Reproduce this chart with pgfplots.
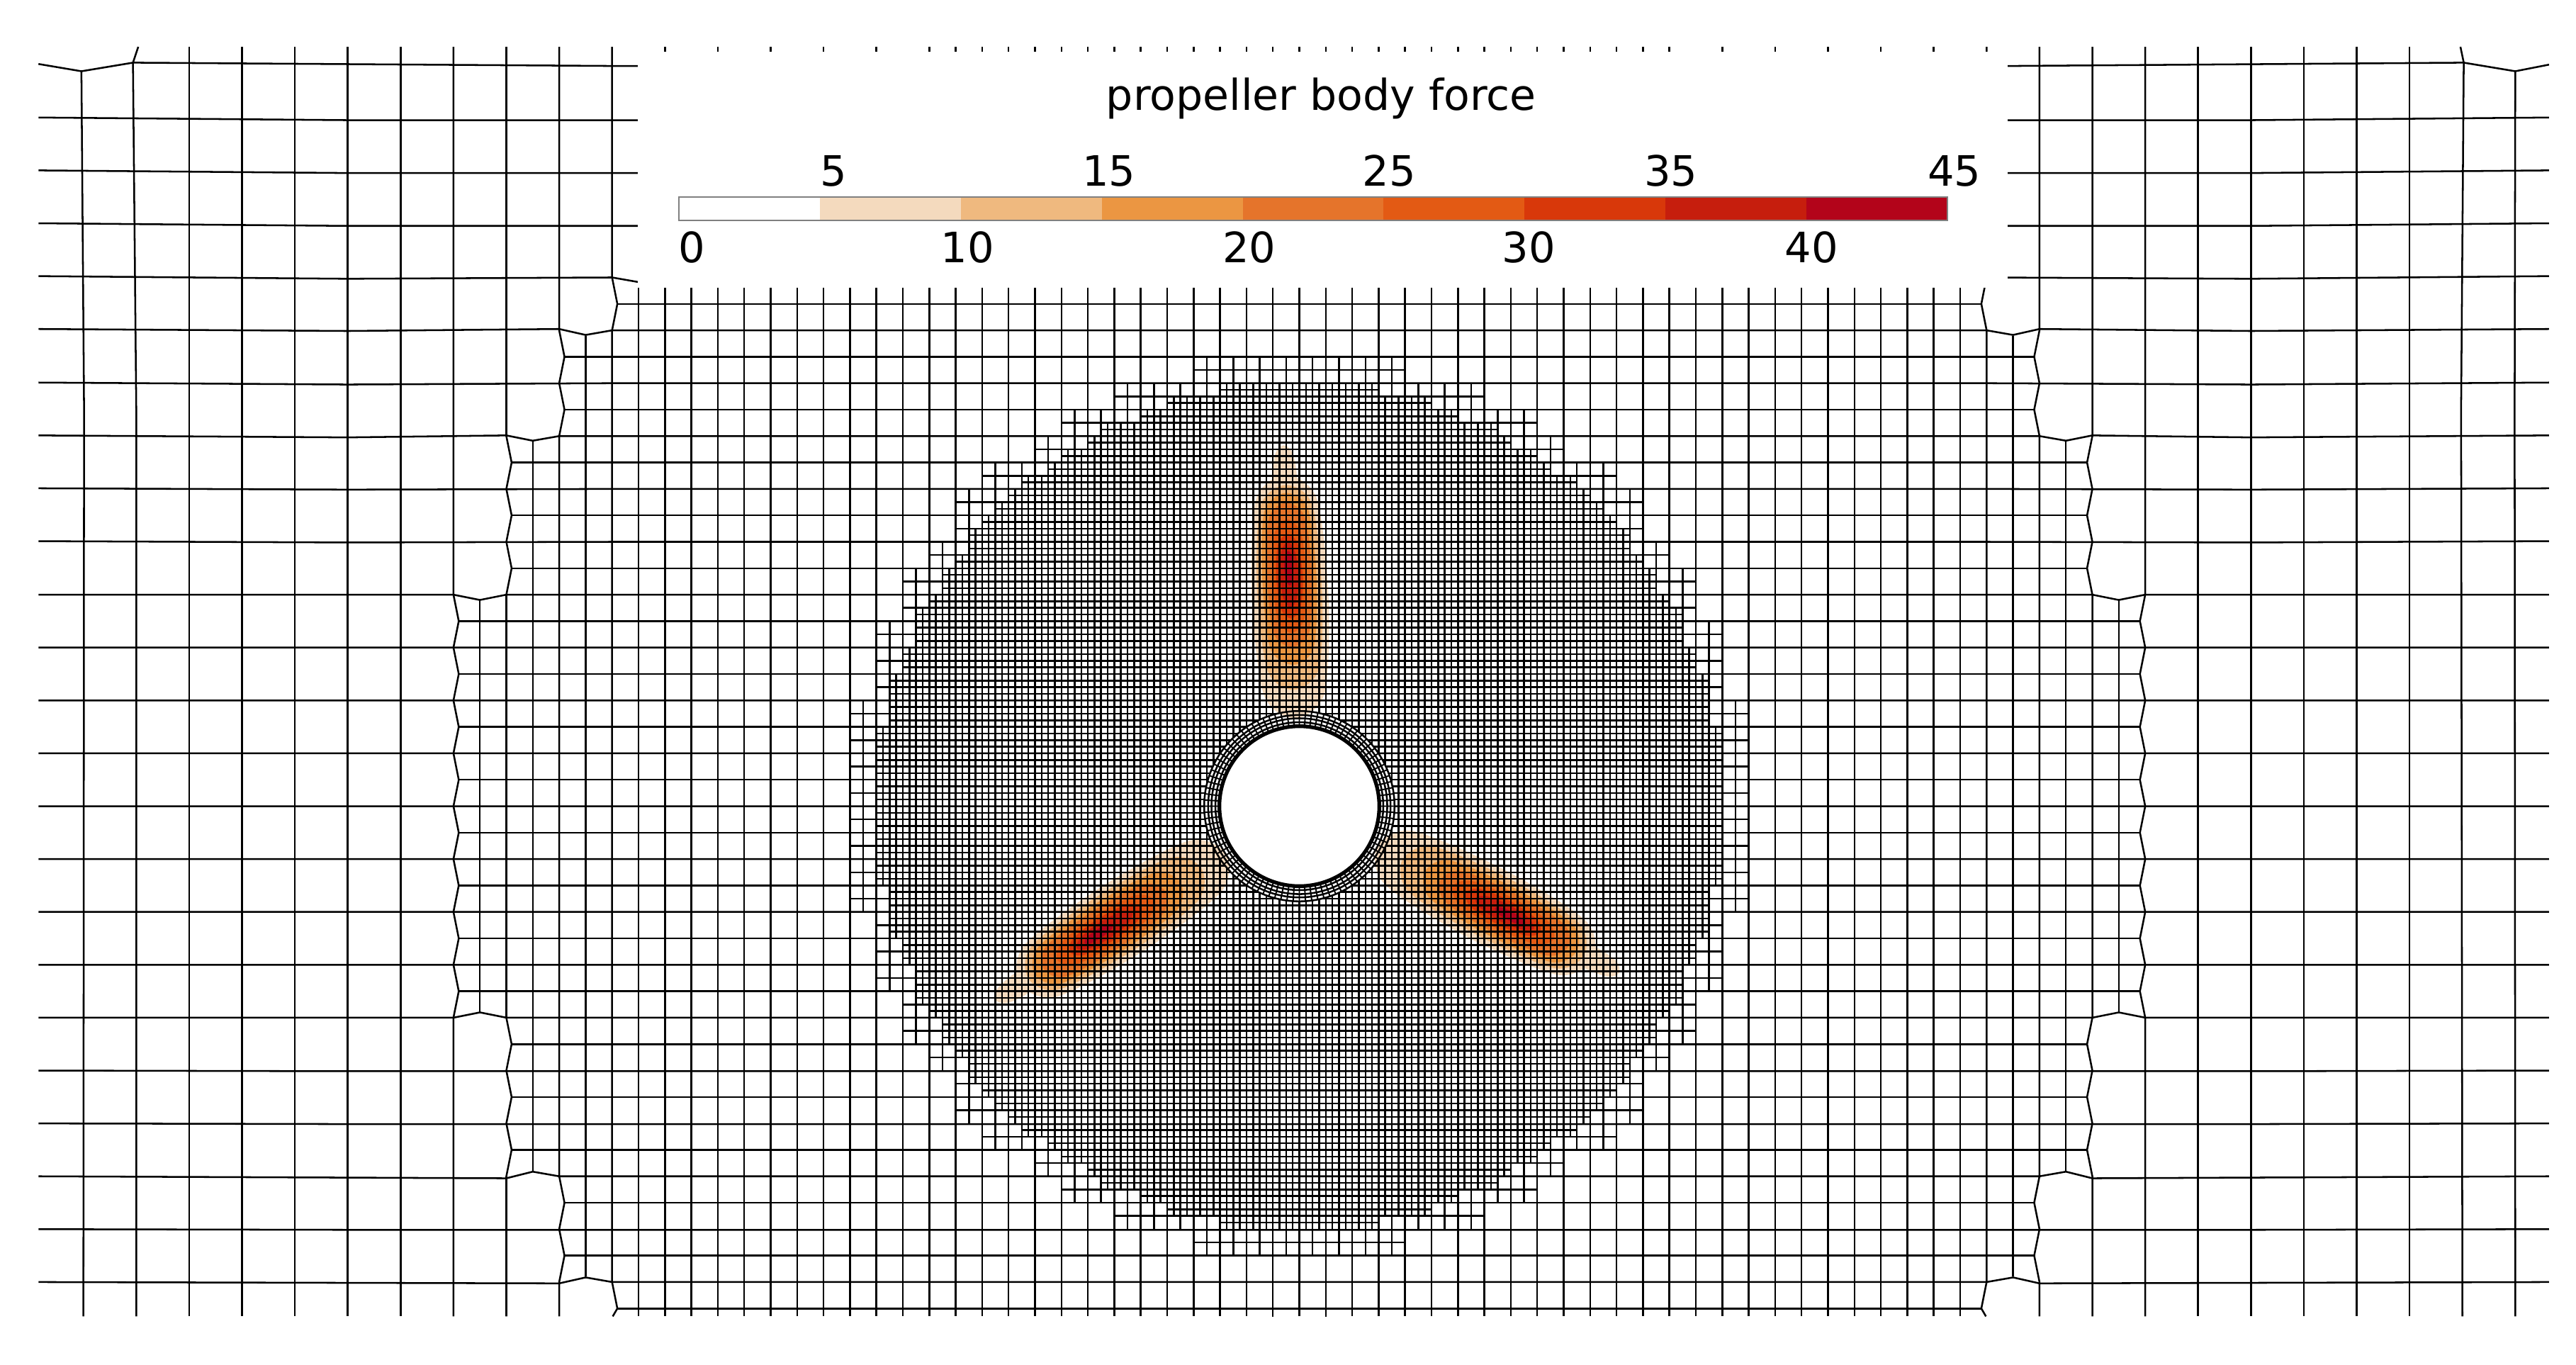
\documentclass[border=0pt]{standalone}
\usepackage{fontspec}
\setmainfont{DejaVu Sans}
\usepackage{pgfplots}
\usepackage{pgfplotstable}
\pgfplotsset{compat=1.18}

% everything is in fine-cell units, origin at the cylinder centre
\definecolor{lvA}{HTML}{F4DABE}
\definecolor{lvB}{HTML}{EFB97F}
\definecolor{lvC}{HTML}{EB9642}
\definecolor{lvD}{HTML}{E5742B}
\definecolor{lvE}{HTML}{E35A14}
\definecolor{lvF}{HTML}{D8380A}
\definecolor{lvG}{HTML}{C61E0D}
\definecolor{lvH}{HTML}{B3041A}

\pgfplotsset{
  grd/.style={black,line width=0.72pt,mark=none},
  ebx/.style={draw=none,mark=none,error bars/.cd,x dir=both,x explicit,error mark=none,
    error bar style={draw=black,line width=0.72pt}},
  eby/.style={draw=none,mark=none,error bars/.cd,y dir=both,y explicit,error mark=none,
    error bar style={draw=black,line width=0.72pt}},
}

\newcommand{\blob}[2]{\addplot[fill=#1,draw=none,smooth cycle] coordinates {#2};}
\newcommand{\ring}[4]{\addplot[#4,smooth cycle,tension=0.63] coordinates {(#1,0)(#2,#3)(#3,#2)(0,#1)(-#3,#2)(-#2,#3)(-#1,0)(-#2,-#3)(-#3,-#2)(0,-#1)(#3,-#2)(#2,-#3)};}
\newcommand{\seg}[3]{\addplot[fill=#1,draw=none] coordinates {(#2,-92.2)(#3,-92.2)(#3,-88.6)(#2,-88.6)} --cycle;}

% fine and second-level lines: position, centre, half length (used both ways)
\pgfplotstableread{
k c h
15 0 62
-15 0 62
17 0 62
-17 0 62
19 0 62
-19 0 62
21 0 60
-21 0 60
23 0 60
-23 0 60
25 0 58
-25 0 58
27 0 58
-27 0 58
29 0 58
-29 0 58
31 0 56
-31 0 56
33 0 54
-33 0 54
35 0 54
-35 0 54
37 0 52
-37 0 52
39 0 50
-39 0 50
41 0 50
-41 0 50
43 0 48
-43 0 48
45 0 46
-45 0 46
47 0 44
-47 0 44
49 0 42
-49 0 42
51 0 38
-51 0 38
53 0 36
-53 0 36
55 0 32
-55 0 32
57 0 30
-57 0 30
59 0 24
-59 0 24
61 0 20
-61 0 20
63 0 12
-63 0 12
18 0 64
-18 0 64
22 0 64
-22 0 64
26 0 64
-26 0 64
30 0 60
-30 0 60
34 0 60
-34 0 60
38 0 56
-38 0 56
42 0 52
-42 0 52
46 0 52
-46 0 52
50 0 48
-50 0 48
54 0 40
-54 0 40
58 0 36
-58 0 36
62 0 28
-62 0 28
66 0 16
-66 0 16
1 39.19 24.81
1 -39.19 24.81
-1 39.19 24.81
-1 -39.19 24.81
3 39.04 24.96
3 -39.04 24.96
-3 39.04 24.96
-3 -39.04 24.96
5 38.75 25.25
5 -38.75 25.25
-5 38.75 25.25
-5 -38.75 25.25
7 38.29 25.71
7 -38.29 25.71
-7 38.29 25.71
-7 -38.29 25.71
9 37.62 26.38
9 -37.62 26.38
-9 37.62 26.38
-9 -37.62 26.38
11 36.65 27.35
11 -36.65 27.35
-11 36.65 27.35
-11 -36.65 27.35
13 34.1 27.9
13 -34.1 27.9
-13 34.1 27.9
-13 -34.1 27.9
2 41.13 26.87
2 -41.13 26.87
-2 41.13 26.87
-2 -41.13 26.87
6 40.55 27.45
6 -40.55 27.45
-6 40.55 27.45
-6 -40.55 27.45
10 39.18 28.82
10 -39.18 28.82
-10 39.18 28.82
-10 -39.18 28.82
14 35.69 32.31
14 -35.69 32.31
-14 35.69 32.31
-14 -35.69 32.31
}\sharedT

% long vertical lines
\pgfplotstableread{
k c h
168 -18.85 96.05
-168 -18.85 96.05
160 -18.85 96.05
-160 -18.85 96.05
152 -18.85 96.05
-152 -18.85 96.05
144 -18.85 96.05
-144 -18.85 96.05
136 -18.85 96.05
-136 -18.85 96.05
96 -18.85 96.05
-96 -18.85 96.05
88 -18.85 96.05
-88 -18.85 96.05
80 -18.85 96.05
-80 -18.85 96.05
72 -18.85 96.05
-72 -18.85 96.05
64 -18.85 96.05
-64 -18.85 96.05
56 -18.85 96.05
-56 -18.85 96.05
52 -18.85 96.05
-52 -18.85 96.05
48 -18.85 96.05
-48 -18.85 96.05
44 -18.85 96.05
-44 -18.85 96.05
40 -18.85 96.05
-40 -18.85 96.05
36 -18.85 96.05
-36 -18.85 96.05
32 -18.85 96.05
-32 -18.85 96.05
28 -18.85 96.05
-28 -18.85 96.05
24 -18.85 96.05
-24 -18.85 96.05
20 -18.85 96.05
-20 -18.85 96.05
16 -18.85 96.05
-16 -18.85 96.05
100 -1.4 78.6
-100 -1.4 78.6
92 -1.4 78.6
-92 -1.4 78.6
84 -1.4 78.6
-84 -1.4 78.6
76 -1.4 78.6
-76 -1.4 78.6
68 -1.4 78.6
-68 -1.4 78.6
60 -1.4 78.6
-60 -1.4 78.6
124 0 31.2
-124 0 31.2
116 0 55.2
-116 0 55.2
108 0 71.2
-108 0 71.2
0 -64.65 50.25
0 45.8 31.4
4 -64.37 50.54
4 45.52 31.69
-4 -64.37 50.54
-4 45.52 31.69
8 -63.44 51.47
8 44.59 32.61
-8 -63.44 51.47
-8 44.59 32.61
12 -61.43 53.47
12 42.58 34.62
-12 -61.43 53.47
-12 42.58 34.62
}\vertT

% second-level horizontal lines
\pgfplotstableread{
c j h
0 20 127.2
0 -20 127.2
0 28 127.2
0 -28 127.2
0 36 119.2
0 -36 119.2
0 44 119.2
0 -44 119.2
0 52 119.2
0 -52 119.2
0 60 111.2
0 -60 111.2
0 68 111.2
0 -68 111.2
0 76 103.2
0 -76 103.2
70.52 4 56.69
-70.52 4 56.69
70.52 -4 56.69
-70.52 -4 56.69
67.58 12 59.62
-67.58 12 59.62
67.58 -12 59.62
-67.58 -12 59.62
}\horT

\begin{document}
\begin{tikzpicture}
\begin{axis}[
  scale only axis,
  width=36.35cm,
  height=19.25cm,
  xmin=-196.62,xmax=193.19,
  ymin=-121.98,ymax=84.45,
  y dir=reverse,
  hide axis,
  unbounded coords=jump,
]
% page corners
\addplot[white,line width=0.1pt,mark=none] coordinates {(-196.62,-121.98)(193.19,84.45)};

% blade bands, tail first
\blob{lvA}{(-2.4,-54.6)(-1.05,-53.5)(-0.4,-50.1)(-0.75,-46.7)(-2,-45.4)(-3.35,-46.5)(-4,-49.9)(-3.65,-53.3)}
\blob{lvA}{(-2.2,-50.1)(2.6,-46.6)(4.4,-32)(3.85,-17.2)(-0.6,-13.3)(-5.35,-16.8)(-7.2,-31.4)(-6.6,-46.2)}
\blob{lvB}{(-2.1,-48.6)(1.9,-45.7)(3.4,-33.3)(3,-20.9)(-0.8,-17.6)(-4.8,-20.5)(-6.4,-32.9)(-5.9,-45.3)}
\blob{lvC}{(-2.1,-47.4)(1.3,-45)(2.6,-34.6)(2.2,-24.1)(-0.9,-21.4)(-4.4,-23.9)(-5.6,-34.2)(-5.3,-44.6)}
\blob{lvD}{(-2,-45.9)(0.8,-43.8)(1.9,-35.1)(1.5,-26.4)(-1.1,-24.1)(-3.9,-26.2)(-4.9,-34.9)(-4.6,-43.6)}
\blob{lvE}{(-1.9,-43.4)(0.2,-41.4)(1.1,-34.9)(0.75,-28.4)(-1.15,-26.2)(-3.25,-28.2)(-4.1,-34.7)(-3.8,-41.2)}
\blob{lvF}{(-1.8,-41.2)(-0.25,-39.7)(0.5,-34.9)(0.2,-30.1)(-1.25,-28.4)(-2.8,-29.9)(-3.5,-34.7)(-3.25,-39.5)}
\blob{lvG}{(-1.75,-40)(-0.7,-38.6)(-0.1,-35)(-0.4,-31.4)(-1.3,-30)(-2.4,-31.4)(-2.9,-35)(-2.7,-38.6)}
\blob{lvH}{(-1.7,-38.6)(-1.15,-37.9)(-0.9,-36)(-1,-34.1)(-1.45,-33.4)(-2,-34.1)(-2.3,-36)(-2.15,-37.9)}

\blob{lvA}{(-46,29.3)(-45.7,27.6)(-43.1,25.3)(-40,23.9)(-38.3,24.4)(-38.6,26.1)(-41.2,28.4)(-44.3,29.8)}
\blob{lvA}{(-42.2,26.9)(-41.6,21)(-29.8,12.1)(-16.8,5.25)(-11.2,7.14)(-11.86,13)(-23.6,21.9)(-36.6,28.8)}
\blob{lvB}{(-41,26.1)(-40.45,21.1)(-30.5,13.6)(-19.5,7.8)(-14.8,9.45)(-15.4,14.4)(-25.3,21.9)(-36.3,27.7)}
\blob{lvC}{(-40,25.5)(-39.5,21.3)(-31.2,15)(-22,10.1)(-18,11.5)(-18.5,15.7)(-26.8,21.9)(-36,26.8)}
\blob{lvD}{(-38.7,24.6)(-38.3,21.2)(-31.3,15.9)(-23.6,11.8)(-20.3,12.9)(-20.7,16.4)(-27.7,21.7)(-35.4,25.8)}
\blob{lvE}{(-36.6,23.3)(-35.9,20.5)(-30.7,16.5)(-24.9,13.5)(-22.1,14.1)(-22.8,16.9)(-27.9,20.9)(-33.75,23.9)}
\blob{lvF}{(-34.7,22.1)(-34.2,20)(-30.4,17)(-26.1,14.85)(-23.9,15.25)(-24.5,17.4)(-28.3,20.4)(-32.6,22.5)}
\blob{lvG}{(-33.7,21.5)(-33.1,19.9)(-30.25,17.6)(-27,16)(-25.3,16.1)(-25.9,17.7)(-28.75,20)(-32,21.6)}
\blob{lvH}{(-32.5,20.7)(-32.2,19.9)(-30.7,18.7)(-29,17.9)(-28.2,17.9)(-28.5,18.7)(-30,19.9)(-31.7,20.8)}

\blob{lvA}{(48.4,25.2)(46.8,25.8)(43.5,24.7)(40.7,22.7)(40.3,21)(41.9,20.4)(45.2,21.5)(48,23.5)}
\blob{lvA}{(44.4,23.1)(39,25.5)(25.4,19.8)(13,11.9)(11.8,6.14)(17.2,3.77)(30.8,9.5)(43.3,17.3)}
\blob{lvB}{(43.1,22.5)(38.6,24.5)(27.1,19.6)(16.6,13)(15.6,8.13)(20.2,6.1)(31.6,10.9)(42.2,17.6)}
\blob{lvC}{(42,21.9)(38.2,23.6)(28.6,19.5)(19.8,14)(19,9.9)(22.8,8.2)(32.4,12.3)(41.3,17.8)}
\blob{lvD}{(40.7,21.2)(37.5,22.6)(29.5,19.2)(22.1,14.5)(21.4,11.1)(24.6,9.8)(32.6,13.2)(40,17.8)}
\blob{lvE}{(38.5,20.1)(35.7,20.85)(29.7,18.4)(24.2,14.85)(23.2,12.1)(26,11.3)(32.1,13.8)(37.55,17.3)}
\blob{lvF}{(36.5,19)(34.4,19.6)(29.95,17.85)(25.9,15.2)(25.2,13.1)(27.3,12.5)(31.8,14.3)(35.8,17)}
\blob{lvG}{(35.5,18.5)(33.8,18.7)(30.4,17.4)(27.4,15.4)(26.6,13.9)(28.3,13.6)(31.7,14.9)(34.7,16.9)}
\blob{lvH}{(34.2,17.8)(33.4,17.95)(31.6,17.25)(30,16.2)(29.6,15.4)(30.5,15.3)(32.2,16)(33.85,17.1)}

% mesh
\addplot[eby] table[x=k,y=c,y error=h]{\sharedT};
\addplot[ebx] table[x=c,y=k,x error=h]{\sharedT};
\addplot[eby] table[x=k,y=c,y error=h]{\vertT};
\addplot[ebx] table[x=c,y=j,x error=h]{\horT};

% outer vertical lines, with the bulges on the refinement edges
\addplot[grd] coordinates {
(-184.3,-111.2)(-183.9,-60)(-184,77.2)(nan,nan)
(184,-111.2)(183.9,-60)(184,77.2)(nan,nan)
(-175.7,-114.9)(-176.5,-112.5)(-176,-60)(-176,77.2)(nan,nan)
(175.7,-114.9)(176.2,-112.5)(175.8,-60)(176,77.2)(nan,nan)
(-128,-114.9)(-128,-32)(-127.2,-28)(-128,-24)(-127.2,-20)(-128,-16)(-127.2,-12)(-128,-8)(-127.2,-4)(-128,0)(-127.2,4)(-128,8)(-127.2,12)(-128,16)(-127.2,20)(-128,24)(-127.2,28)(-128,32)(-128,77.2)(nan,nan)
(128,-114.9)(128,-32)(127.2,-28)(128,-24)(127.2,-20)(128,-16)(127.2,-12)(128,-8)(127.2,-4)(128,0)(127.2,4)(128,8)(127.2,12)(128,16)(127.2,20)(128,24)(127.2,28)(128,32)(128,77.2)(nan,nan)
(-120,-114.9)(-120,-56)(-119.2,-52)(-120,-48)(-119.2,-44)(-120,-40)(-119.2,-36)(-120,-32)(-120,32)(-119.2,36)(-120,40)(-119.2,44)(-120,48)(-119.2,52)(-120,56)(-120,77.2)(nan,nan)
(120,-114.9)(120,-56)(119.2,-52)(120,-48)(119.2,-44)(120,-40)(119.2,-36)(120,-32)(120,32)(119.2,36)(120,40)(119.2,44)(120,48)(119.2,52)(120,56)(120,77.2)(nan,nan)
(-112,-114.9)(-112,-72)(-111.2,-68)(-112,-64)(-111.2,-60)(-112,-56)(-112,56)(-111.2,60)(-112,64)(-111.2,68)(-112,72)(-112,77.2)(nan,nan)
(112,-114.9)(112,-72)(111.2,-68)(112,-64)(111.2,-60)(112,-56)(112,56)(111.2,60)(112,64)(111.2,68)(112,72)(112,77.2)(nan,nan)
(-104,-114.9)(-104,-80)(-103.2,-76)(-104,-72)(-104,72)(-103.2,76)(-103.9,77.2)(nan,nan)
(104,-114.9)(104,-80)(103.2,-76)(104,-72)(104,72)(103.2,76)(103.9,77.2)
};

% long horizontal lines
\addplot[grd] coordinates {
(-190.8,-112.3)(-184.3,-111.2)(-176.5,-112.5)(-104,-112)(108,-112)(176.2,-112.5)(184,-111.2)(189.1,-112.2)(nan,nan)
(-190.8,-104.2)(-144,-103.8)(144,-103.8)(189.1,-104.2)(nan,nan)
(-190.8,-96.2)(-144,-95.8)(144,-95.8)(189.1,-96.2)(nan,nan)
(-190.8,-88.2)(-144,-87.8)(144,-87.8)(189.1,-88.2)(nan,nan)
(-190.8,-80.2)(-144,-79.8)(-104,-80)(-100,-79.3)(-96,-80)(96,-80)(100,-79.3)(104,-80)(144,-79.8)(189.1,-80.2)(nan,nan)
(-190.8,-72.2)(-144,-71.9)(-112,-72.2)(-108,-71.3)(-104,-72)(104,-72)(108,-71.3)(112,-72.2)(144,-71.9)(189.1,-72.2)(nan,nan)
(-190.8,-64.1)(-144,-63.8)(-104,-64)(104,-64)(144,-63.8)(189.1,-64.1)(nan,nan)
(-190.8,-56.1)(-144,-55.8)(-120,-56.1)(-116,-55.3)(-112,-56)(112,-56)(116,-55.3)(120,-56.1)(144,-55.8)(189.1,-56.1)(nan,nan)
(-190.8,-48.1)(-144,-47.9)(-104,-48)(104,-48)(144,-47.9)(189.1,-48.1)(nan,nan)
(-190.8,-40.1)(-144,-39.9)(-104,-40)(104,-40)(144,-39.9)(189.1,-40.1)(nan,nan)
(-190.8,-32)(-128,-32)(-124,-31.2)(-120,-32)(120,-32)(124,-31.2)(128,-32)(189.1,-32)(nan,nan)
(-190.8,-24)(189.1,-24)(nan,nan)
(-190.8,-16)(189.1,-16)(nan,nan)
(-190.8,-8)(-11.97,-8)(nan,nan)(11.97,-8)(189.1,-8)(nan,nan)
(-190.8,0)(-14.4,0)(nan,nan)(14.4,0)(189.1,0)(nan,nan)
(-190.8,8)(-11.97,8)(nan,nan)(11.97,8)(189.1,8)(nan,nan)
(-190.8,16)(189.1,16)(nan,nan)
(-190.8,24)(189.1,24)(nan,nan)
(-190.8,32)(-128,32)(-124,31.2)(-120,32)(120,32)(124,31.2)(128,32)(189.1,32)(nan,nan)
(-190.8,40)(-144,40.1)(144,40.1)(189.1,40)(nan,nan)
(-190.8,48)(-144,48.1)(144,48.1)(189.1,48)(nan,nan)
(-190.8,56)(-120,56.3)(-116,55.3)(-112,56)(112,56)(116,55.3)(120,56.3)(189.1,56)(nan,nan)
(-190.8,64)(-144,64.1)(144,64.1)(189.1,64)(nan,nan)
(-190.8,72)(-112,72.2)(-108,71.3)(-104,72)(104,72)(108,71.3)(112,72.2)(189.1,72)
};

% spokes round the cylinder, the disc hides their middles
\addplot[grd,line width=0.55pt] coordinates {
(14.4,0)(-14.4,0)(nan,nan)(14.37,0.94)(-14.37,-0.94)(nan,nan)(14.28,1.88)(-14.28,-1.88)(nan,nan)(14.12,2.81)(-14.12,-2.81)(nan,nan)
(13.91,3.73)(-13.91,-3.73)(nan,nan)(13.64,4.63)(-13.64,-4.63)(nan,nan)(13.3,5.51)(-13.3,-5.51)(nan,nan)(12.92,6.37)(-12.92,-6.37)(nan,nan)
(12.47,7.2)(-12.47,-7.2)(nan,nan)(11.97,8)(-11.97,-8)(nan,nan)(11.42,8.77)(-11.42,-8.77)(nan,nan)(10.83,9.49)(-10.83,-9.49)(nan,nan)
(10.18,10.18)(-10.18,-10.18)(nan,nan)(9.49,10.83)(-9.49,-10.83)(nan,nan)(8.77,11.42)(-8.77,-11.42)(nan,nan)(8,11.97)(-8,-11.97)(nan,nan)
(7.2,12.47)(-7.2,-12.47)(nan,nan)(6.37,12.92)(-6.37,-12.92)(nan,nan)(5.51,13.3)(-5.51,-13.3)(nan,nan)(4.63,13.64)(-4.63,-13.64)(nan,nan)
(3.73,13.91)(-3.73,-13.91)(nan,nan)(2.81,14.12)(-2.81,-14.12)(nan,nan)(1.88,14.28)(-1.88,-14.28)(nan,nan)(0.94,14.37)(-0.94,-14.37)(nan,nan)
(0,14.4)(0,-14.4)(nan,nan)(-0.94,14.37)(0.94,-14.37)(nan,nan)(-1.88,14.28)(1.88,-14.28)(nan,nan)(-2.81,14.12)(2.81,-14.12)(nan,nan)
(-3.73,13.91)(3.73,-13.91)(nan,nan)(-4.63,13.64)(4.63,-13.64)(nan,nan)(-5.51,13.3)(5.51,-13.3)(nan,nan)(-6.37,12.92)(6.37,-12.92)(nan,nan)
(-7.2,12.47)(7.2,-12.47)(nan,nan)(-8,11.97)(8,-11.97)(nan,nan)(-8.77,11.42)(8.77,-11.42)(nan,nan)(-9.49,10.83)(9.49,-10.83)(nan,nan)
(-10.18,10.18)(10.18,-10.18)(nan,nan)(-10.83,9.49)(10.83,-9.49)(nan,nan)(-11.42,8.77)(11.42,-8.77)(nan,nan)(-11.97,8)(11.97,-8)(nan,nan)
(-12.47,7.2)(12.47,-7.2)(nan,nan)(-12.92,6.37)(12.92,-6.37)(nan,nan)(-13.3,5.51)(13.3,-5.51)(nan,nan)(-13.64,4.63)(13.64,-4.63)(nan,nan)
(-13.91,3.73)(13.91,-3.73)(nan,nan)(-14.12,2.81)(14.12,-2.81)(nan,nan)(-14.28,1.88)(14.28,-1.88)(nan,nan)(-14.37,0.94)(14.37,-0.94)
};
\ring{14.4}{12.47}{7.2}{grd}
\ring{13.8}{11.95}{6.9}{grd}
\ring{13.3}{11.52}{6.65}{grd}
\ring{12.7}{11}{6.35}{grd}
\ring{12.1}{10.48}{6.05}{black,line width=1.5pt,fill=white,mark=none}

% colour bar panel
\addplot[fill=white,draw=none] coordinates {(-100.1,-114.2)(107.2,-114.2)(107.2,-78.4)(-100.1,-78.4)} --cycle;
\seg{lvA}{-72.57}{-51.24}
\seg{lvB}{-51.24}{-29.91}
\seg{lvC}{-29.91}{-8.58}
\seg{lvD}{-8.58}{12.75}
\seg{lvE}{12.75}{34.08}
\seg{lvF}{34.08}{55.41}
\seg{lvG}{55.41}{76.74}
\seg{lvH}{76.74}{98.07}
\addplot[draw=gray,line width=0.5pt,fill=none] coordinates {(-93.9,-92.2)(98.07,-92.2)(98.07,-88.6)(-93.9,-88.6)} --cycle;

\begin{scope}[every node/.style={anchor=base,inner sep=0pt,font=\fontsize{16.8}{20}\selectfont}]
\node[font=\fontsize{17.1}{20}\selectfont] at (axis cs:3.3,-105.3) {propeller body force};
\node at (axis cs:-91.9,-82.3) {0};
\node at (axis cs:-70.5,-93.8) {5};
\node at (axis cs:-50.2,-82.3) {10};
\node at (axis cs:-28.8,-93.8) {15};
\node at (axis cs:-7.6,-82.3) {20};
\node at (axis cs:13.6,-93.8) {25};
\node at (axis cs:34.7,-82.3) {30};
\node at (axis cs:56.2,-93.8) {35};
\node at (axis cs:77.5,-82.3) {40};
\node at (axis cs:99.1,-93.8) {45};
\end{scope}
\end{axis}
\end{tikzpicture}
\end{document}
